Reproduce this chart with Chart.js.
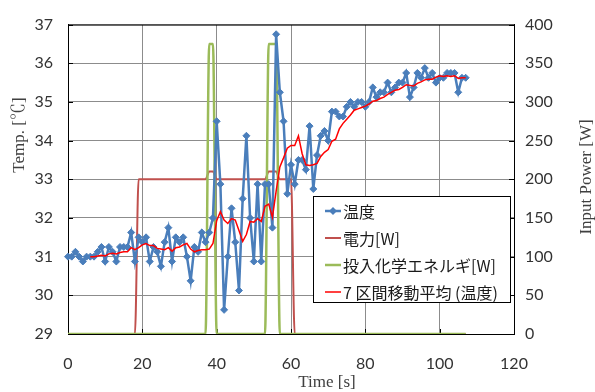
<!DOCTYPE html>
<html>
<head>
<meta charset="utf-8">
<script src="https://cdn.jsdelivr.net/npm/chart.js@4.4.1/dist/chart.umd.min.js"></script>
<style>
  html, body { margin: 0; padding: 0; background: #fff; }
  canvas { display: block; }
</style>
</head>
<body>
<canvas id="tempChart" width="595" height="392"></canvas>
<script>
// temperature log, one reading per second
const timeSec = [
  0, 1, 2, 3, 4, 5, 6, 7, 8, 9, 10, 11, 12, 13, 14, 15, 16, 17, 18, 19,
  20, 21, 22, 23, 24, 25, 26, 27, 28, 29, 30, 31, 32, 33, 34, 35, 36, 37, 38, 39,
  40, 41, 42, 43, 44, 45, 46, 47, 48, 49, 50, 51, 52, 53, 54, 55, 56, 57, 58, 59,
  60, 61, 62, 63, 64, 65, 66, 67, 68, 69, 70, 71, 72, 73, 74, 75, 76, 77, 78, 79,
  80, 81, 82, 83, 84, 85, 86, 87, 88, 89, 90, 91, 92, 93, 94, 95, 96, 97, 98, 99,
  100, 101, 102, 103, 104, 105, 106, 107,
];
const tempC = [
  31.0, 31.0, 31.125, 31.0, 30.875, 31.0, 31.0, 31.0, 31.125, 31.25,
  30.875, 31.25, 31.125, 30.875, 31.25, 31.25, 31.25, 31.625, 30.875, 31.5,
  31.375, 31.5, 30.875, 31.25, 31.125, 30.75, 31.375, 31.75, 30.875, 31.5,
  31.375, 31.5, 31.0, 30.375, 31.25, 31.125, 31.625, 31.375, 31.625, 32.0,
  34.5, 32.875, 29.625, 31.0, 32.25, 31.375, 30.125, 32.5, 34.125, 32.0,
  30.875, 32.875, 30.875, 32.875, 32.875, 31.75, 36.75, 35.25, 34.5, 32.625,
  33.375, 32.875, 33.5, 33.5, 33.25, 34.375, 32.75, 33.625, 34.125, 34.25,
  34.0, 34.75, 34.75, 34.625, 34.625, 34.875, 35.0, 34.875, 35.0, 35.0,
  34.875, 35.0, 35.375, 35.125, 35.25, 35.25, 35.5, 35.25, 35.375, 35.5,
  35.5, 35.75, 35.125, 35.375, 35.75, 35.625, 35.875, 35.625, 35.75, 35.5,
  35.625, 35.625, 35.75, 35.75, 35.75, 35.25, 35.625, 35.625,
];

// heater power, only where it changes
const powerTime = [0, 18, 19, 37, 38, 39, 40, 53, 54, 55, 56, 57, 60, 61, 107];
const powerW = [0, 0, 200, 200, 210, 210, 200, 200, 210, 210, 210, 200, 200, 0, 0];

// chemical energy input (two pulses)
const chemTime = [0, 37, 38, 39, 40, 53, 54, 55, 56, 57, 107];
const chemW = [0, 0, 375, 375, 0, 0, 375, 375, 375, 0, 0];

const xTicks = [0, 20, 40, 60, 80, 100, 120];
const tempTicks = [29, 30, 31, 32, 33, 34, 35, 36, 37];
const powerTicks = [0, 50, 100, 150, 200, 250, 300, 350, 400];

const MA_SPAN = 7;

function toPoints(xs, ys) {
  return xs.map((x, i) => ({ x: x, y: ys[i] }));
}

// trailing 7-reading mean of the temperature (first point at the 7th reading)
let tempAvg = [];
for (let i = MA_SPAN - 1; i < tempC.length; i++) {
  let sum = 0;
  for (let k = i - MA_SPAN + 1; k <= i; k++) sum += tempC[k];
  tempAvg.push({ x: timeSec[i], y: sum / MA_SPAN });
}

const tickFont = { family: "Lato, 'Liberation Sans', sans-serif", size: 16 };
const titleFont = "17px 'Liberation Serif', 'Noto Serif CJK JP', serif";
const legendFont = "16px 'Noto Sans CJK JP', sans-serif";

// frame, inward tick marks, axis titles and the boxed legend
const frameAndLegend = {
  id: "frameAndLegend",
  beforeDatasetsDraw(chart) {
    const { ctx, chartArea: a, scales } = chart;
    ctx.save();
    ctx.strokeStyle = "#000";
    ctx.lineWidth = 1;
    ctx.beginPath();
    ctx.moveTo(a.left, a.top + 0.5);
    ctx.lineTo(a.right, a.top + 0.5);
    scales.x.ticks.forEach((t) => {
      const px = Math.round(scales.x.getPixelForValue(t.value)) + 0.5;
      ctx.moveTo(px, a.bottom);
      ctx.lineTo(px, a.bottom - 5);
    });
    scales.y.ticks.forEach((t) => {
      const py = Math.round(scales.y.getPixelForValue(t.value)) + 0.5;
      ctx.moveTo(a.left, py);
      ctx.lineTo(a.left + 5, py);
    });
    scales.y1.ticks.forEach((t) => {
      const py = Math.round(scales.y1.getPixelForValue(t.value)) + 0.5;
      ctx.moveTo(a.right, py);
      ctx.lineTo(a.right - 5, py);
    });
    ctx.stroke();
    ctx.restore();
  },
  afterDraw(chart) {
    const { ctx } = chart;
    ctx.save();
    ctx.fillStyle = "#404040";
    ctx.font = titleFont;
    ctx.textAlign = "center";
    ctx.textBaseline = "middle";
    ctx.fillText("Time [s]", 327, 383);

    ctx.save();
    ctx.translate(20, 135);
    ctx.rotate(-Math.PI / 2);
    ctx.fillText("Temp. [℃]", 0, 0);
    ctx.restore();

    ctx.save();
    ctx.translate(587, 177);
    ctx.rotate(-Math.PI / 2);
    ctx.fillText("Input Power [W]", 0, 0);
    ctx.restore();

    // legend box
    const bx = 313.5, by = 196.5, bw = 197, bh = 106;
    ctx.fillStyle = "#fff";
    ctx.fillRect(bx, by, bw, bh);
    ctx.strokeStyle = "#000";
    ctx.lineWidth = 1;
    ctx.strokeRect(bx, by, bw, bh);

    ctx.font = legendFont;
    ctx.textAlign = "left";
    chart.data.datasets.forEach((ds, i) => {
      const y = 211 + i * 27;
      ctx.strokeStyle = ds.borderColor;
      ctx.lineWidth = ds.borderWidth;
      ctx.beginPath();
      ctx.moveTo(325, y);
      ctx.lineTo(341, y);
      ctx.stroke();
      if (ds.pointRadius > 0) {
        ctx.fillStyle = ds.pointBackgroundColor;
        ctx.beginPath();
        ctx.moveTo(333, y - 4);
        ctx.lineTo(337, y);
        ctx.lineTo(333, y + 4);
        ctx.lineTo(329, y);
        ctx.closePath();
        ctx.fill();
      }
      ctx.fillStyle = "#1a1a1a";
      ctx.fillText(ds.label, 343, y + 1);
    });
    ctx.restore();
  },
};

new Chart(document.getElementById("tempChart"), {
  type: "line",
  data: {
    datasets: [
      {
        label: "温度",
        data: toPoints(timeSec, tempC),
        yAxisID: "y",
        borderColor: "#4a7ebb",
        backgroundColor: "#4a7ebb",
        pointBackgroundColor: "#4a7ebb",
        pointBorderColor: "#4a7ebb",
        pointStyle: "rectRot",
        pointRadius: 3.5,
        pointBorderWidth: 1,
        borderWidth: 2.5,
        tension: 0,
        clip: false,
        order: 1,
      },
      {
        label: "電力[W]",
        data: toPoints(powerTime, powerW),
        yAxisID: "y1",
        borderColor: "#c0504d",
        borderWidth: 2,
        pointRadius: 0,
        cubicInterpolationMode: "monotone",
        order: 3,
      },
      {
        label: "投入化学エネルギ[W]",
        data: toPoints(chemTime, chemW),
        yAxisID: "y1",
        borderColor: "#9bbb59",
        borderWidth: 2.5,
        pointRadius: 0,
        cubicInterpolationMode: "monotone",
        order: 2,
      },
      {
        label: "7 区間移動平均 (温度)",
        data: tempAvg,
        yAxisID: "y",
        borderColor: "#ff0000",
        borderWidth: 1.5,
        pointRadius: 0,
        tension: 0,
        order: 0,
      },
    ],
  },
  options: {
    responsive: false,
    animation: false,
    devicePixelRatio: 1,
    layout: { padding: { top: 18, left: 0, right: 0, bottom: 0 } },
    plugins: {
      legend: { display: false },
      tooltip: { enabled: false },
    },
    scales: {
      x: {
        type: "linear",
        min: xTicks[0],
        max: xTicks[xTicks.length - 1],
        afterBuildTicks: (s) => { s.ticks = xTicks.map((v) => ({ value: v })); },
        ticks: { font: tickFont, color: "#333", padding: 20, maxRotation: 0 },
        grid: { color: "#8c8c8c", drawTicks: false },
        border: { color: "#000", width: 1 },
        afterFit: (s) => { s.height = 58; },
      },
      y: {
        position: "left",
        min: tempTicks[0],
        max: tempTicks[tempTicks.length - 1],
        afterBuildTicks: (s) => { s.ticks = tempTicks.map((v) => ({ value: v })); },
        ticks: { font: tickFont, color: "#333", padding: 15 },
        grid: { color: "#8c8c8c", drawTicks: false },
        border: { color: "#000", width: 1 },
        afterFit: (s) => { s.width = 68; },
      },
      y1: {
        position: "right",
        min: powerTicks[0],
        max: powerTicks[powerTicks.length - 1],
        afterBuildTicks: (s) => { s.ticks = powerTicks.map((v) => ({ value: v })); },
        ticks: { font: tickFont, color: "#333", padding: 11 },
        grid: { drawOnChartArea: false, drawTicks: false },
        border: { color: "#000", width: 1 },
        afterFit: (s) => { s.width = 81; },
      },
    },
  },
  plugins: [frameAndLegend],
});
</script>
</body>
</html>
